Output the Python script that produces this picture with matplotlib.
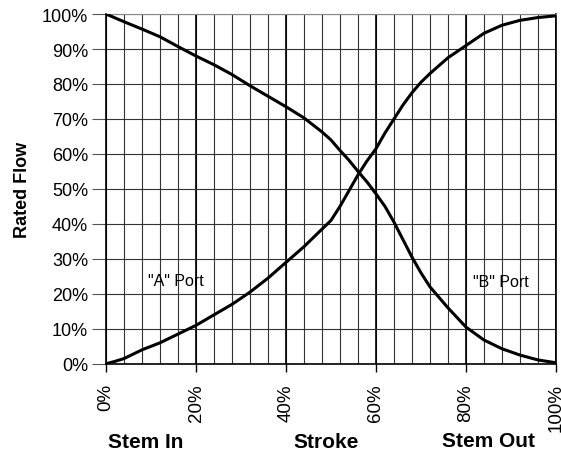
import numpy as np
import matplotlib.pyplot as plt

plt.rcParams['font.family'] = ['Liberation Sans', 'DejaVu Sans']

# ход штока, % и расход через порты, %
stroke = [0, 2, 4, 8, 12, 16, 20, 24, 28, 32, 36, 40, 44, 48, 50, 52, 54,
          56, 58, 60, 62, 64, 66, 68, 70, 72, 76, 80, 84, 88, 92, 96, 100]
port_a = [0, 0.7, 1.5, 4, 6, 8.5, 11, 14, 17, 20.5, 24.5, 29, 33.5, 38.5,
          41, 45, 49.5, 54, 58, 61.5, 66, 70, 74, 77.5, 80.5, 83, 87.5, 91,
          94.5, 96.8, 98.2, 99, 99.5]
port_b = [100, 98.9, 97.8, 95.7, 93.5, 90.7, 88, 85.5, 82.7, 79.5, 76.5,
          73.5, 70.3, 66.3, 64, 61, 58.2, 55, 52, 48.6, 45, 40.5, 35.5, 30.5,
          26, 22, 16, 10.5, 6.8, 4.3, 2.5, 1.1, 0.3]
x_ticks = [0, 20, 40, 60, 80, 100]
y_ticks = [0, 10, 20, 30, 40, 50, 60, 70, 80, 90, 100]

fig = plt.figure(figsize=(5.61, 4.56), dpi=100)
ax = fig.add_axes([0.189, 0.2, 0.802, 0.767])

# сетка: тонкие линии через 4%, жирные через 20%
for v in range(0, 101, 4):
    ax.axvline(v, color='#333333', lw=0.8, zorder=1)
for v in x_ticks:
    ax.axvline(v, color='black', lw=1.2, zorder=1)
for v in y_ticks:
    ax.axhline(v, color='#333333', lw=0.8, zorder=1)

ax.plot(stroke, port_a, color='black', lw=2.2, zorder=3)
ax.plot(stroke, port_b, color='black', lw=2.2, zorder=3)

ax.text(15.6, 23.7, '"A" Port', fontsize=11.5, ha='center', va='center')
ax.text(87.8, 23.4, '"B" Port', fontsize=11.5, ha='center', va='center')

ax.set_xlim(0, 100)
ax.set_ylim(0, 100)
ax.set_xticks(x_ticks)
ax.set_xticklabels([f'{v}%' for v in x_ticks], rotation=90, fontsize=13.5)
ax.set_yticks(y_ticks)
ax.set_yticklabels([f'{v}%' for v in y_ticks], fontsize=13)
ax.tick_params(axis='y', length=10, width=0.8, color='#555555', pad=3)
ax.tick_params(axis='x', length=6, width=1, pad=8)
ax.set_ylabel('Rated Flow', fontsize=13, fontweight='bold', labelpad=8)

for s in ['left', 'bottom', 'right']:
    ax.spines[s].set_color('black')
    ax.spines[s].set_linewidth(1.2)
ax.spines['top'].set_color('#888888')

fig.text(146 / 561, 1 - 443 / 456, 'Stem In', fontsize=15, fontweight='bold',
         ha='center', va='center')
fig.text(326 / 561, 1 - 443 / 456, 'Stroke', fontsize=15, fontweight='bold',
         ha='center', va='center')
fig.text(488 / 561, 1 - 442 / 456, 'Stem Out', fontsize=15, fontweight='bold',
         ha='center', va='center')

fig.savefig('out.png', dpi=100)
